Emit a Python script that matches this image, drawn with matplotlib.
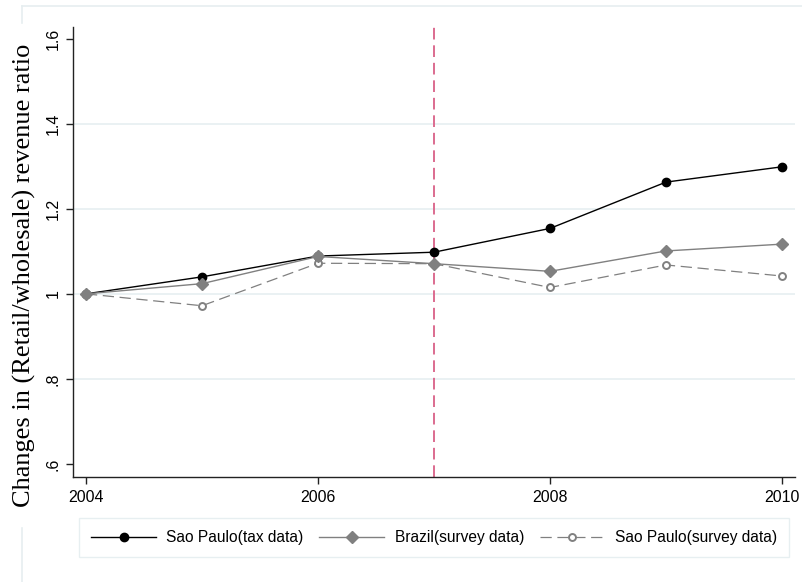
import matplotlib.pyplot as plt
from matplotlib.lines import Line2D

# --- data ---
years = [2004, 2005, 2006, 2007, 2008, 2009, 2010]
sp_tax = [1.000, 1.040, 1.089, 1.098, 1.154, 1.263, 1.299]
br_survey = [1.000, 1.024, 1.088, 1.071, 1.053, 1.101, 1.117]
sp_survey = [1.000, 0.972, 1.072, 1.071, 1.015, 1.068, 1.042]
reform_year = 2007

labels = ['Sao Paulo(tax data)', 'Brazil(survey data)', 'Sao Paulo(survey data)']
xticks = [2004, 2006, 2008, 2010]
yticks = [0.6, 0.8, 1.0, 1.2, 1.4, 1.6]
yticklabels = ['.6', '.8', '1', '1.2', '1.4', '1.6']

W, H = 802, 582
fig = plt.figure(figsize=(W / 100, H / 100), dpi=100)
fig.patch.set_facecolor('white')

# light outer frame (stata graph region), broken where the y title sits
frame_kw = dict(transform=fig.transFigure, color='#e6eef0', linewidth=1.2, zorder=0)
fig.add_artist(Line2D([22 / W, 1], [1 - 6 / H, 1 - 6 / H], **frame_kw))
fig.add_artist(Line2D([22 / W, 22 / W], [1 - 6 / H, 1 - 23 / H], **frame_kw))
fig.add_artist(Line2D([22 / W, 22 / W], [1 - 528 / H, 0], **frame_kw))

ax = fig.add_axes([73 / W, 105 / H, (795 - 73) / W, (477 - 27) / H])
ax.set_facecolor('white')

for y in [0.8, 1.0, 1.2, 1.4]:
    ax.axhline(y, color='#e8f0f2', linewidth=1.3, zorder=0)

ax.axvline(reform_year, color='#dc6b8f', linewidth=1.4,
           linestyle=(0, (6, 3)), zorder=1)

ax.plot(years, sp_tax, color='black', linewidth=1.0, marker='o',
        markersize=6, zorder=3)
ax.plot(years, br_survey, color='#808080', linewidth=1.0, marker='D',
        markersize=6.5, zorder=4)
ax.plot(years, sp_survey, color='#808080', linewidth=0.9,
        linestyle=(0, (9, 4.5)), marker='o', markersize=5,
        markerfacecolor='white', markeredgewidth=1.4, zorder=2)

ax.set_xlim(2003.888, 2010.112)
ax.set_ylim(0.569, 1.628)
ax.set_xticks(xticks)
ax.set_xticklabels([str(x) for x in xticks], fontfamily='Liberation Sans', fontsize=11.5)
ax.set_yticks(yticks)
ax.set_yticklabels(yticklabels, fontfamily='Liberation Sans', fontsize=11.5,
                   rotation=90, va='center')

for s in ['top', 'right']:
    ax.spines[s].set_visible(False)
for s in ['left', 'bottom']:
    ax.spines[s].set_color('#222222')
    ax.spines[s].set_linewidth(1.0)
ax.tick_params(direction='out', length=5, width=1.0, color='#222222', pad=4)

# y title placed like the stata output
fig.text(24 / W, 1 - 275 / H, 'Changes in (Retail/wholesale) revenue ratio',
         fontfamily='Liberation Serif', fontsize=19, rotation=90,
         ha='center', va='center')

handles = [
    Line2D([], [], color='black', linewidth=1.0, marker='o', markersize=6),
    Line2D([], [], color='#808080', linewidth=1.0, marker='D', markersize=6.5),
    Line2D([], [], color='#808080', linewidth=0.9, linestyle=(0, (9, 4.5)),
           marker='o', markersize=5, markerfacecolor='white', markeredgewidth=1.4),
]
leg = fig.legend(handles, labels, ncol=3, loc='center',
                 bbox_to_anchor=(434 / W, 1 - (519 + 556) / 2 / H),
                 prop={'family': 'Liberation Sans', 'size': 11.2},
                 frameon=True, fancybox=False, handlelength=4.2,
                 columnspacing=1.0, handletextpad=0.65, borderpad=0.75,
                 borderaxespad=0)
leg.get_frame().set_edgecolor('#e2ecee')
leg.get_frame().set_linewidth(1.0)

fig.savefig('out.png', dpi=100)
